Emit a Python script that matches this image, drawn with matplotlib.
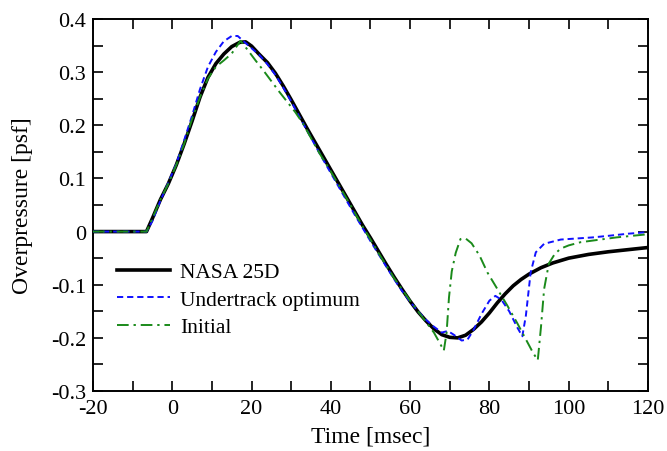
import matplotlib
matplotlib.use("Agg")
import matplotlib.pyplot as plt
from matplotlib.ticker import MultipleLocator

plt.rcParams['font.family'] = ['Liberation Serif', 'DejaVu Serif']

# NASA 25D
t_nasa = [-20, -6.5, -5, -3, -1, 1, 3, 5, 7, 9, 11, 13, 15, 17, 18.5, 20, 22, 24, 26, 28,
          30, 32, 34, 36, 38, 40, 42, 44, 46, 48, 50, 52, 54, 56, 58, 60, 62, 64, 66, 68,
          70, 72, 74, 76, 78, 80, 82, 84, 86, 88, 90, 93, 96, 100, 105, 110, 115, 120]
p_nasa = [0, 0, 0.025, 0.06, 0.09, 0.125, 0.165, 0.208, 0.253, 0.29, 0.316, 0.334, 0.348, 0.356, 0.357, 0.349, 0.333, 0.318, 0.298, 0.274,
          0.248, 0.221, 0.194, 0.168, 0.142, 0.116, 0.09, 0.064, 0.038, 0.012, -0.012, -0.037, -0.062, -0.086, -0.109, -0.131, -0.151, -0.168, -0.183, -0.194,
          -0.199, -0.2, -0.195, -0.184, -0.17, -0.153, -0.134, -0.117, -0.102, -0.09, -0.08, -0.068, -0.059, -0.05, -0.043, -0.038, -0.034, -0.03]

# Undertrack optimum
t_opt = [-20, -6.5, -5, -3, -1, 1, 3, 5, 7, 9, 11, 13, 15, 16.5, 18, 20, 22, 24, 26, 28,
         30, 32, 34, 36, 38, 40, 42, 44, 46, 48, 50, 52, 54, 56, 58, 60, 62, 64, 66, 68,
         69.5, 71, 73, 74.5, 76, 78, 80, 81.5, 83, 85, 87, 88.3, 89.2, 90.4, 91.7, 93.8, 98, 102, 106, 110, 115, 120]
p_opt = [0, 0, 0.02, 0.058, 0.092, 0.127, 0.172, 0.218, 0.268, 0.31, 0.338, 0.358, 0.368, 0.368, 0.358, 0.345, 0.332, 0.315, 0.295, 0.271,
         0.245, 0.217, 0.19, 0.163, 0.136, 0.11, 0.084, 0.058, 0.032, 0.007, -0.018, -0.042, -0.066, -0.09, -0.112, -0.132, -0.15, -0.166, -0.179, -0.19,
         -0.187, -0.194, -0.205, -0.203, -0.185, -0.155, -0.13, -0.121, -0.128, -0.15, -0.18, -0.197, -0.158, -0.077, -0.039, -0.023, -0.015, -0.013, -0.011, -0.008, -0.004, -0.001]

# Initial
t_init = [-20, -6.5, -5, -3, -1, 1, 3, 5, 7, 9, 11, 13, 15, 17.2, 19, 21, 23, 25, 27, 29,
          31, 33, 35, 37, 40, 44, 48, 52, 56, 60, 64, 66, 67.5, 68.5, 69.2, 69.8, 70.5, 71.5, 72.7, 74,
          75.5, 77.5, 79.5, 82, 84.5, 87, 89, 91, 92.2, 93, 93.8, 95, 96.5, 98, 100, 103, 107, 112, 116, 120]
p_init = [0, 0, 0.025, 0.06, 0.09, 0.125, 0.165, 0.212, 0.253, 0.288, 0.31, 0.322, 0.335, 0.359, 0.342, 0.322, 0.303, 0.283, 0.263, 0.244,
          0.225, 0.203, 0.176, 0.149, 0.113, 0.062, 0.01, -0.04, -0.088, -0.13, -0.17, -0.19, -0.21, -0.224, -0.19, -0.124, -0.075, -0.04, -0.014, -0.013,
          -0.022, -0.045, -0.077, -0.108, -0.139, -0.172, -0.2, -0.228, -0.242, -0.18, -0.108, -0.06, -0.042, -0.032, -0.026, -0.02, -0.016, -0.011, -0.008, -0.005]

x_ticks = [-20, 0, 20, 40, 60, 80, 100, 120]
y_ticks = [0.4, 0.3, 0.2, 0.1, 0, -0.1, -0.2, -0.3]
y_tick_labels = ["0.4", "0.3", "0.2", "0.1", "0", "-0.1", "-0.2", "-0.3"]
x_tick_labels = ["-20", "0", "20", "40", "60", "80", "100", "120"]

fig = plt.figure(figsize=(6.67, 4.52), dpi=100)
ax = fig.add_axes([0.1394, 0.1327, 0.8321, 0.8231])

ax.plot(t_nasa, p_nasa, color='black', lw=2.6, label='NASA 25D', zorder=3)
ax.plot(t_opt, p_opt, color='#1010ff', lw=1.4, ls=(0, (3.2, 2.0)), label='Undertrack optimum', zorder=4)
ax.plot(t_init, p_init, color='#1a8a1a', lw=1.4, ls=(0, (6, 2.5, 1.2, 2.5)), label='Initial', zorder=5)

ax.set_xlim(-20, 120)
ax.set_ylim(-0.3, 0.4)
ax.set_xticks(x_ticks)
ax.set_xticklabels(x_tick_labels)
ax.set_yticks(y_ticks)
ax.set_yticklabels(y_tick_labels)
ax.xaxis.set_minor_locator(MultipleLocator(10))
ax.yaxis.set_minor_locator(MultipleLocator(0.05))
ax.tick_params(which='both', direction='in', top=True, right=True, length=7, width=1.2,
               labelsize=16, colors='black')
ax.tick_params(axis='x', pad=6)
ax.tick_params(axis='y', pad=5)
for s in ax.spines.values():
    s.set_linewidth(1.4)

ax.set_xlabel('Time [msec]', fontsize=17, labelpad=5)
ax.set_ylabel('Overpressure [psf]', fontsize=17)
ax.yaxis.set_label_coords(-0.108, 0.5)

leg = ax.legend(loc='upper left', bbox_to_anchor=(0.028, 0.37), frameon=False, fontsize=15.5,
                handlelength=2.45, handletextpad=0.47, labelspacing=0.35, borderaxespad=0)

fig.savefig('out.png', dpi=100)
